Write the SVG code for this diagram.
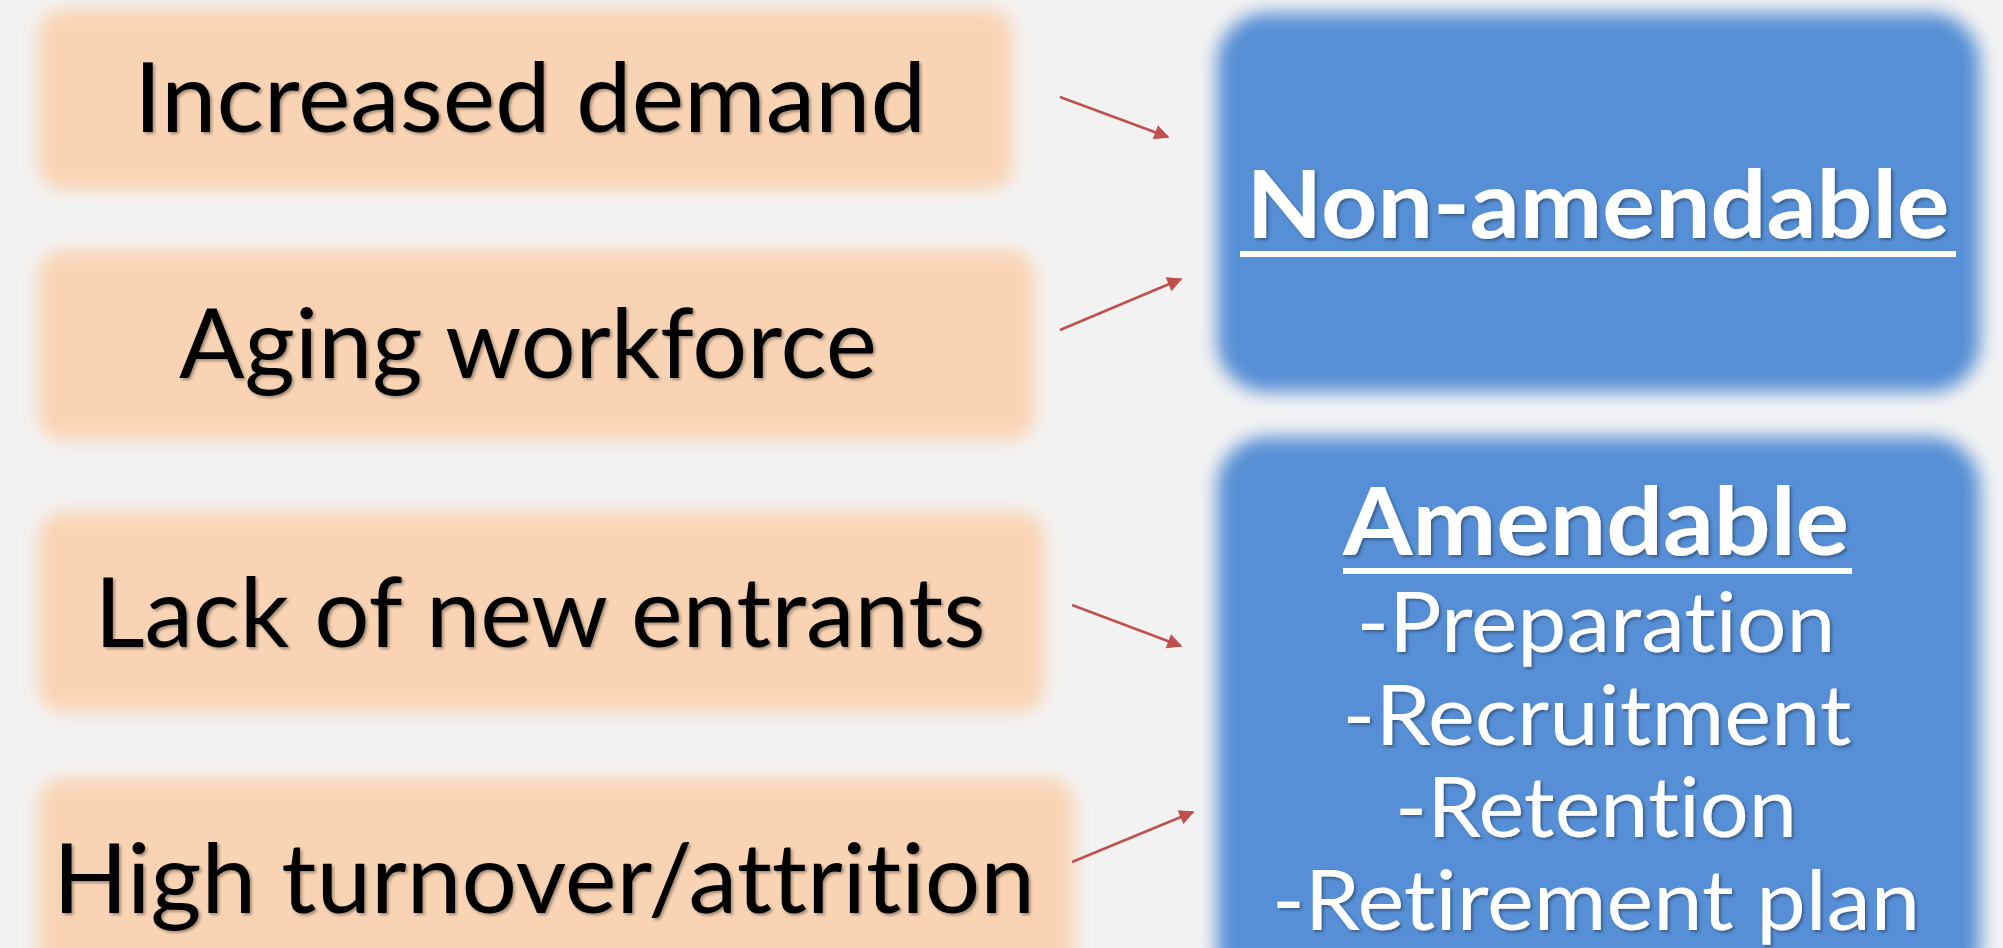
<svg xmlns="http://www.w3.org/2000/svg" width="2003" height="948" viewBox="0 0 2003 948">
  <defs>
    <style>
      .cause { fill: #F9D4B4; filter: url(#soft); }
      .group { fill: #578FD6; filter: url(#soft); }
      text { font-family: Lato, "Open Sans", "Liberation Sans", sans-serif; text-anchor: middle; font-variant-ligatures: none; font-feature-settings: "liga" 0, "clig" 0; filter: url(#shade); }
      .dark { font-size: 97px; fill: #000000; }
      .head { font-size: 94px; font-weight: bold; fill: #FFFFFF; }
      .item { font-size: 84px; fill: #FFFFFF; }
      .rule { fill: #FFFFFF; }
      .link { stroke: #C0504D; stroke-width: 2.5; fill: none; marker-end: url(#tip); }
    </style>
    <filter id="soft" x="-10%" y="-20%" width="120%" height="140%">
      <feGaussianBlur stdDeviation="9"/>
    </filter>
    <filter id="shade" x="-5%" y="-20%" width="110%" height="140%">
      <feDropShadow dx="2" dy="2" stdDeviation="1.5" flood-color="#000000" flood-opacity="0.35"/>
    </filter>
    <marker id="tip" viewBox="0 0 10 10" refX="9" refY="5" markerWidth="7.5" markerHeight="6" markerUnits="strokeWidth" orient="auto">
      <path d="M0,0 L10,5 L0,10 z" fill="#C0504D"/>
    </marker>
  </defs>

  <rect width="2003" height="948" fill="#F2F2F2"/>

  <g id="increased-demand">
    <rect class="cause" x="38" y="9" width="976" height="181" rx="25"/>
    <text class="dark" x="530" y="132" textLength="792" lengthAdjust="spacingAndGlyphs">Increased demand</text>
  </g>

  <g id="aging-workforce">
    <rect class="cause" x="38" y="250" width="997" height="190" rx="25"/>
    <text class="dark" x="528" y="378" textLength="698" lengthAdjust="spacingAndGlyphs">Aging workforce</text>
  </g>

  <g id="lack-of-new-entrants">
    <rect class="cause" x="38" y="512" width="1007" height="200" rx="25"/>
    <text class="dark" x="540" y="647" textLength="891" lengthAdjust="spacingAndGlyphs">Lack of new entrants</text>
  </g>

  <g id="high-turnover">
    <rect class="cause" x="38" y="778" width="1036" height="210" rx="25"/>
    <text class="dark" x="544" y="913" textLength="982" lengthAdjust="spacingAndGlyphs">High turnover/attrition</text>
  </g>

  <g id="non-amendable">
    <rect class="group" x="1217" y="13" width="763" height="379" rx="50"/>
    <text class="head" x="1598" y="238" textLength="703" lengthAdjust="spacingAndGlyphs">Non-amendable</text>
    <rect class="rule" x="1240" y="251" width="716" height="6"/>
  </g>

  <g id="amendable">
    <rect class="group" x="1217" y="437" width="763" height="560" rx="50"/>
    <text class="head" x="1596" y="555" textLength="506" lengthAdjust="spacingAndGlyphs">Amendable</text>
    <rect class="rule" x="1343" y="568" width="509" height="6"/>
    <text class="item" x="1596" y="652" textLength="479" lengthAdjust="spacingAndGlyphs">-Preparation</text>
    <text class="item" x="1597" y="745" textLength="509" lengthAdjust="spacingAndGlyphs">-Recruitment</text>
    <text class="item" x="1596" y="837" textLength="402" lengthAdjust="spacingAndGlyphs">-Retention</text>
    <text class="item" x="1596" y="930" textLength="648" lengthAdjust="spacingAndGlyphs">-Retirement plan</text>
  </g>

  <g id="connectors">
    <line class="link" x1="1060" y1="97" x2="1168" y2="137"/>
    <line class="link" x1="1060" y1="330" x2="1181" y2="279"/>
    <line class="link" x1="1072" y1="605" x2="1181" y2="646"/>
    <line class="link" x1="1072" y1="862" x2="1193" y2="812"/>
  </g>
</svg>
